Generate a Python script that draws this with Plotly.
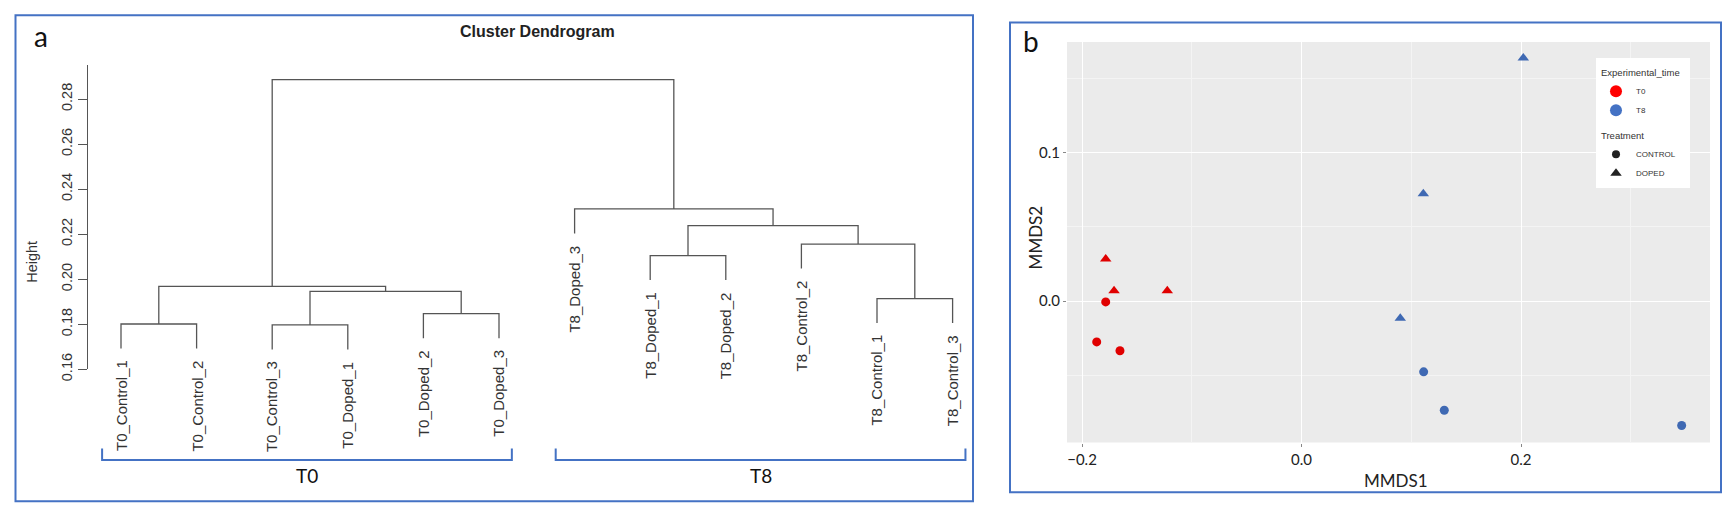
import plotly.graph_objects as go

# ---------------- data: panel a (hierarchical clustering) ----------------
leaf_labels = ["T0_Control_1", "T0_Control_2", "T0_Control_3", "T0_Doped_1",
               "T0_Doped_2", "T0_Doped_3", "T8_Doped_3", "T8_Doped_1",
               "T8_Doped_2", "T8_Control_2", "T8_Control_1", "T8_Control_3"]
# hclust-style merge table: negative = leaf (1-based), positive = earlier merge step
merge_left = [-3, -1, -5, -11, 1, 2, -8, -10, 7, -7, 6]
merge_right = [-4, -2, -6, -12, 3, 5, -9, 4, 8, 9, 10]
merge_height = [0.1797, 0.1801, 0.1847, 0.1914, 0.1946, 0.1968,
                0.2105, 0.2156, 0.2238, 0.2312, 0.2886]
height_ticks = [0.16, 0.18, 0.20, 0.22, 0.24, 0.26, 0.28]
group_names = ["T0", "T8"]
group_first_leaf = [1, 7]
group_last_leaf = [6, 12]

# ---------------- data: panel b (MMDS) ----------------
t0_control_x = [-0.1784, -0.1866, -0.1654]
t0_control_y = [-0.0005, -0.0274, -0.0333]
t0_doped_x = [-0.1784, -0.1708, -0.1223]
t0_doped_y = [0.0284, 0.0070, 0.0070]
t8_doped_x = [0.2021, 0.1110, 0.0900]
t8_doped_y = [0.1635, 0.0722, -0.0114]
t8_control_x = [0.1113, 0.1301, 0.3464]
t8_control_y = [-0.0475, -0.0733, -0.0836]
mmds1_ticks = [-0.2, 0.0, 0.2]
mmds1_minor = [-0.1, 0.1, 0.3]
mmds2_ticks = [0.0, 0.1]
mmds2_minor = [-0.05, 0.05, 0.15]

# ---------------- geometry helpers ----------------
W, H = 1736, 519
def px(x):
    return x / W
def py(y):
    return 1 - y / H

RED = "#e00000"
BLUE = "#3f69b3"
FRAME = "#4472c4"
LINE = "#555555"

hang_fraction = 0.1
hang = hang_fraction * (max(merge_height) - min(merge_height))

merge_x = []
leaf_bottom = {}
seg_x, seg_y = [], []
def child(c, h):
    if c < 0:
        leaf_bottom[-c] = h - hang
        return -c, h - hang
    return merge_x[c - 1], merge_height[c - 1]
for l, r, h in zip(merge_left, merge_right, merge_height):
    xl, yl = child(l, h)
    xr, yr = child(r, h)
    seg_x += [xl, xl, xr, xr, None]
    seg_y += [yl, h, h, yr, None]
    merge_x.append((xl + xr) / 2)

fig = go.Figure()

fig.add_trace(go.Scatter(x=seg_x, y=seg_y, mode="lines",
                         line=dict(color=LINE, width=1.3),
                         hoverinfo="skip", showlegend=False,
                         xaxis="x", yaxis="y"))

# scatter points
def pts(xv, yv, color, symbol, size):
    fig.add_trace(go.Scatter(x=xv, y=yv, mode="markers",
                             marker=dict(color=color, symbol=symbol, size=size,
                                         line=dict(width=0)),
                             showlegend=False, xaxis="x2", yaxis="y2"))
pts(t0_control_x, t0_control_y, RED, "circle", 9)
pts(t0_doped_x, t0_doped_y, RED, "triangle-up", 10)
pts(t8_control_x, t8_control_y, BLUE, "circle", 9)
pts(t8_doped_x, t8_doped_y, BLUE, "triangle-up", 10)

# legend entries
def leg(name, color, symbol, size, group, title=None):
    kw = {}
    if title:
        kw["legendgrouptitle"] = dict(text=title)
    fig.add_trace(go.Scatter(x=[None], y=[None], mode="markers", name=name,
                             marker=dict(color=color, symbol=symbol, size=size),
                             legendgroup=group, xaxis="x2", yaxis="y2", **kw))
leg("T0", "#ff0000", "circle", 12, "time", "Experimental_time")
leg("T8", "#4472c4", "circle", 12, "time")
leg("CONTROL", "#222222", "circle", 8, "treat", "Treatment")
leg("DOPED", "#222222", "triangle-up", 10, "treat")

annotations = []
# leaf labels
for i, lab in enumerate(leaf_labels, start=1):
    annotations.append(dict(x=i, y=leaf_bottom[i], xref="x", yref="y", text=lab,
                            textangle=-90, xanchor="center", yanchor="top",
                            yshift=-10, showarrow=False,
                            font=dict(family="Liberation Sans", size=15, color="#333")))

shapes = []
# grey panel background for the MMDS plot
shapes.append(dict(type="rect", xref="x2 domain", yref="y2 domain",
                   x0=0, x1=1, y0=0, y1=1, layer="below",
                   fillcolor="#ebebeb", line=dict(width=0)))
for name, a, b in zip(group_names, group_first_leaf, group_last_leaf):
    x0, x1 = a - 0.25, b + 0.17
    shapes.append(dict(type="path", xref="x", yref="paper",
                       path=f"M {x0},{py(459)} L {x0},{py(471)} L {x1},{py(471)} L {x1},{py(459)}",
                       line=dict(color=FRAME, width=2)))
    annotations.append(dict(x=(x0 + x1) / 2, y=py(487), xref="x", yref="paper",
                            text=name, showarrow=False, xanchor="center", yanchor="middle",
                            font=dict(family="Lato", size=19, color="#111")))

# panel frames
shapes.append(dict(type="rect", xref="paper", yref="paper",
                   x0=px(15.5), x1=px(973), y0=py(513), y1=py(15.5),
                   line=dict(color=FRAME, width=2)))
shapes.append(dict(type="rect", xref="paper", yref="paper",
                   x0=px(1010), x1=px(1721), y0=py(504), y1=py(23),
                   line=dict(color=FRAME, width=2)))

# texts
def txt(x, y, s, size, family="Lato", color="#111", angle=0):
    annotations.append(dict(x=px(x), y=py(y), xref="paper", yref="paper", text=s,
                            showarrow=False, xanchor="center", yanchor="middle",
                            textangle=angle,
                            font=dict(family=family, size=size, color=color)))
txt(41, 37, "a", 28)
txt(1031, 42, "b", 28)
txt(537, 32, "<b>Cluster Dendrogram</b>", 16, "Liberation Sans", "#222")
txt(32, 268, "Height", 14.5, "Liberation Sans", "#333", -90)
txt(1396, 492, "MMDS1", 17, "Lato", "#222")
txt(1035, 243, "MMDS2", 17, "Lato", "#222", -90)

# dendrogram axes: leaf i at px 121 + (i-1)*75.6 ; 0.16 at py 378, 2305 px / unit
x0_px, x1_px = 88, 972
fig.update_layout(
    xaxis=dict(domain=[px(x0_px), px(x1_px)],
               range=[1 - (121 - x0_px) / 75.6, 1 + (x1_px - 121) / 75.6],
               visible=False, fixedrange=True),
    yaxis=dict(domain=[py(378), py(67)],
               range=[0.16, 0.16 + (378 - 67) / 2305],
               tickvals=height_ticks, ticktext=[f"{v:.2f}" for v in height_ticks],
               tickangle=-90, ticks="outside", ticklen=9, tickwidth=1.2, tickcolor=LINE,
               showline=True, linecolor=LINE, linewidth=1.2,
               showgrid=False, zeroline=False,
               tickfont=dict(family="Liberation Sans", size=14.5, color="#333"),
               anchor="x", fixedrange=True),
    xaxis2=dict(domain=[px(1067), px(1710)],
                range=[-0.2 - 15 / 1097.5, 0.2 + 189 / 1097.5],
                tickvals=mmds1_ticks, tickformat=".1f",
                ticks="outside", ticklen=3, tickcolor="#888",
                showgrid=True, gridcolor="white", gridwidth=1.1,
                minor=dict(tickvals=mmds1_minor, showgrid=True,
                           gridcolor="#f4f4f4", gridwidth=0.6, ticks=""),
                zeroline=False, showline=False,
                tickfont=dict(family="Lato", size=15, color="#222"),
                anchor="y2", fixedrange=True),
    yaxis2=dict(domain=[py(453), py(43)],
                range=[-144.7 / 1523, 0.1 + 113 / 1523],
                tickvals=mmds2_ticks, tickformat=".1f",
                ticks="outside", ticklen=3, tickcolor="#888",
                showgrid=True, gridcolor="white", gridwidth=1.1,
                minor=dict(tickvals=mmds2_minor, showgrid=True,
                           gridcolor="#f4f4f4", gridwidth=0.6, ticks=""),
                zeroline=False, showline=False,
                tickfont=dict(family="Lato", size=15, color="#222"),
                anchor="x2", fixedrange=True),
    plot_bgcolor="rgba(0,0,0,0)",
    paper_bgcolor="white",
    width=W, height=H, autosize=False,
    margin=dict(l=0, r=0, t=0, b=0),
    annotations=annotations,
    shapes=shapes,
    showlegend=True,
    legend=dict(x=px(1596), y=py(59), xanchor="left", yanchor="top",
                bgcolor="white", borderwidth=0,
                font=dict(family="Liberation Sans", size=8, color="#333"),
                grouptitlefont=dict(family="Liberation Sans", size=9.5, color="#333"),
                tracegroupgap=6, itemsizing="trace", traceorder="grouped"),
)

fig.write_html("out.html", config={"displayModeBar": False},
               post_script="document.body.style.margin='0';document.body.style.overflow='hidden';")
